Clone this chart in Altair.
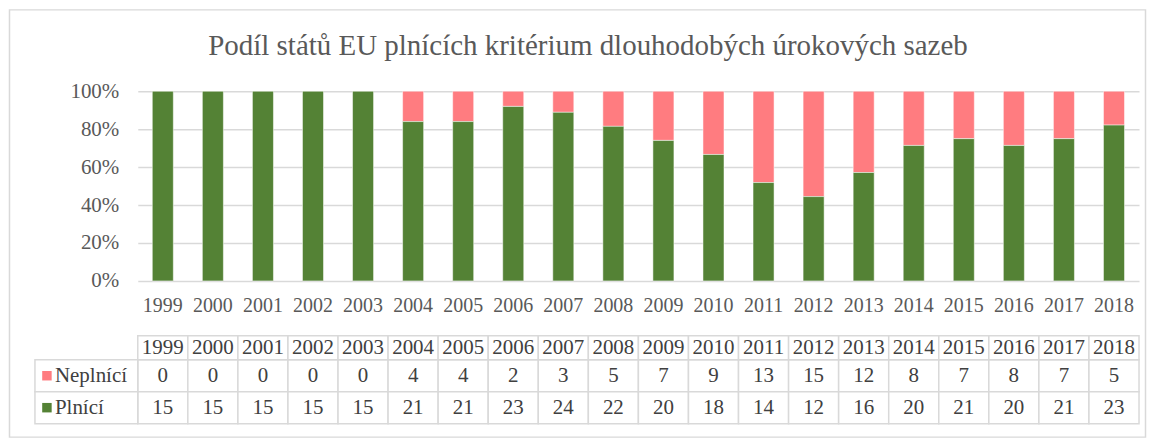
import altair as alt
import pandas as pd

TITLE = "Podíl států EU plnících kritérium dlouhodobých úrokových sazeb"
YEARS = ["1999", "2000", "2001", "2002", "2003", "2004", "2005", "2006", "2007", "2008",
         "2009", "2010", "2011", "2012", "2013", "2014", "2015", "2016", "2017", "2018"]
NEPLNICI = [0, 0, 0, 0, 0, 4, 4, 2, 3, 5, 7, 9, 13, 15, 12, 8, 7, 8, 7, 5]
PLNICI = [15, 15, 15, 15, 15, 21, 21, 23, 24, 22, 20, 18, 14, 12, 16, 20, 21, 20, 21, 23]
SERIES = ["Neplnící", "Plnící"]
COLORS = ["#FF7C80", "#548235"]
Y_TICKS = [0, 0.2, 0.4, 0.6, 0.8, 1.0]

rows = []
for i, yr in enumerate(YEARS):
    rows.append({"year": yr, "status": "Neplnící", "count": NEPLNICI[i], "ord": 1})
    rows.append({"year": yr, "status": "Plnící", "count": PLNICI[i], "ord": 0})
df = pd.DataFrame(rows)
hdr_df = pd.DataFrame({"year": YEARS})
lab_df = pd.DataFrame({"status": SERIES})
title_df = pd.DataFrame({"t": [TITLE]})
frame_df = pd.DataFrame({"k": [1]})

W = 1003
FONT = "Liberation Serif"
GRID = "#d9d9d9"
TXT = "#595959"
TTXT = "#404040"

color = alt.Color("status:N", scale=alt.Scale(domain=SERIES, range=COLORS), legend=None)

xb = alt.X("year:N", sort=YEARS, scale=alt.Scale(paddingInner=0, paddingOuter=0),
           axis=alt.Axis(title=None, labelAngle=0, labelFont=FONT, labelFontSize=20,
                         labelColor=TXT, ticks=False, domain=False, labelPadding=15))

bars = alt.Chart(df).mark_bar(width={"band": 0.42}, stroke="white", strokeWidth=1,
                              strokeOpacity=0.5).encode(
    x=xb,
    y=alt.Y("count:Q", stack="normalize", scale=alt.Scale(domain=[0, 1], nice=False),
            axis=alt.Axis(title=None, format=".0%", values=Y_TICKS, labelFont=FONT,
                          labelFontSize=21, labelColor=TXT, ticks=False, domain=False,
                          grid=True, gridColor=GRID, gridWidth=1.5, labelPadding=19)),
    color=color,
    order=alt.Order("ord:Q"),
)

frame = alt.Chart(frame_df).mark_rect(fillOpacity=0, stroke=GRID, strokeWidth=1.5).encode(
    x=alt.value(-128.5), x2=alt.value(1009.5), y=alt.value(-81.5), y2=alt.value(346.5)
)

title = alt.Chart(title_df).mark_text(font=FONT, fontSize=29, color=TXT).encode(
    x=alt.value(451), y=alt.value(-45), text="t:N"
)

top = alt.layer(frame, title, bars).properties(width=W, height=190)

xt = alt.X("year:N", sort=YEARS, scale=alt.Scale(paddingInner=0, paddingOuter=0), axis=None)
yt = alt.Y("status:N", sort=SERIES, scale=alt.Scale(paddingInner=0, paddingOuter=0), axis=None)

cells = alt.Chart(df).mark_rect(fill="white", stroke=GRID, strokeWidth=1.5).encode(x=xt, y=yt)
nums = alt.Chart(df).mark_text(font=FONT, fontSize=21, color=TTXT).encode(
    x=xt, y=yt, text="count:Q")
hdr_cells = alt.Chart(hdr_df).mark_rect(fill="white", stroke=GRID, strokeWidth=1.5).encode(
    x=xt, y=alt.value(-24), y2=alt.value(0))
hdr_text = alt.Chart(hdr_df).mark_text(font=FONT, fontSize=21, color=TTXT).encode(
    x=xt, y=alt.value(-12), text="year:N")
lab_cells = alt.Chart(lab_df).mark_rect(fill="white", stroke=GRID, strokeWidth=1.5).encode(
    x=alt.value(-103), x2=alt.value(0), y=yt)
squares = alt.Chart(lab_df).mark_square(size=90, opacity=1).encode(
    x=alt.value(-91), y=yt, color=color)
labels = alt.Chart(lab_df).mark_text(font=FONT, fontSize=21, color=TTXT, align="left").encode(
    x=alt.value(-83), y=yt, text="status:N")

table = alt.layer(cells, nums, hdr_cells, hdr_text, lab_cells, squares, labels).properties(
    width=W, height=64)

chart = alt.vconcat(top, table, spacing=79, bounds="flush").properties(
    padding=0
).configure_view(stroke=None)

chart.save("out.html", embed_options={"renderer": "svg", "actions": False})
